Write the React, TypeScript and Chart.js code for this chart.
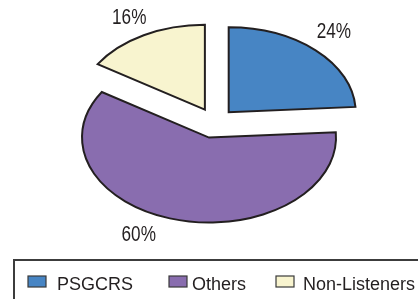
import React, { useEffect, useRef } from 'react';
import { Chart, registerables } from 'chart.js';

Chart.register(...registerables);

// ---- data ----
const CATEGORIES = ['PSGCRS', 'Others', 'Non-Listeners'];
const VALUES = [24, 60, 16];
const PERCENT_LABELS = ['24%', '60%', '16%'];

// ---- styles / layout ----
const COLORS = ['#4785C4', '#896DAF', '#F8F4CF'];
const OUTLINE = '#231F20';
const SQUASH = 0.669; // vertical flattening of the pie
const EXPLODE = [20, 24, 21]; // explosion distance per slice (circle space)
const RADIUS = 127;
const LABEL_DIST = 178;
const LABEL_NUDGE = [[-3, -3], [-32, -2], [0, 0]];
const LABEL_FONT = "22px 'Liberation Sans', Arial, sans-serif";
const LABEL_X_SCALE = 0.78; // condensed look of the percentage labels
const LEGEND_FONT = "18px 'Liberation Sans', Arial, sans-serif";
const LEGEND_BOX = { left: 14, top: 260 };
const LEGEND_SWATCH_X = [28, 169, 276];
const LEGEND_TEXT_X = [57, 192, 303];

const squashedPie = {
  id: 'squashedPie',
  beforeDatasetsDraw(chart: any) {
    const ctx: CanvasRenderingContext2D = chart.ctx;
    const meta = chart.getDatasetMeta(0);
    meta.data.forEach((arc: any, i: number) => {
      const { x, y, startAngle, endAngle, outerRadius } = arc.getProps(
        ['x', 'y', 'startAngle', 'endAngle', 'outerRadius'],
        true
      );
      const mid = (startAngle + endAngle) / 2;
      const d = EXPLODE[i] || 0;
      ctx.save();
      ctx.translate(x, y);
      ctx.scale(1, SQUASH);
      ctx.translate(-x, -y);
      ctx.translate(Math.cos(mid) * d, Math.sin(mid) * d);
      arc.draw(ctx);
      ctx.beginPath();
      ctx.moveTo(x, y);
      ctx.arc(x, y, outerRadius, startAngle, endAngle);
      ctx.closePath();
      ctx.restore();
      ctx.save();
      ctx.lineWidth = 2;
      ctx.lineJoin = 'miter';
      ctx.strokeStyle = OUTLINE;
      ctx.stroke();
      ctx.restore();
    });
    // percentage labels
    meta.data.forEach((arc: any, i: number) => {
      const { x, y, startAngle, endAngle } = arc.getProps(['x', 'y', 'startAngle', 'endAngle'], true);
      const mid = (startAngle + endAngle) / 2;
      const nx = LABEL_NUDGE[i] ? LABEL_NUDGE[i][0] : 0;
      const ny = LABEL_NUDGE[i] ? LABEL_NUDGE[i][1] : 0;
      const lx = x + Math.cos(mid) * LABEL_DIST + nx;
      const ly = y + Math.sin(mid) * LABEL_DIST * SQUASH + ny;
      ctx.save();
      ctx.translate(lx, ly);
      ctx.scale(LABEL_X_SCALE, 1);
      ctx.font = LABEL_FONT;
      ctx.fillStyle = OUTLINE;
      ctx.textAlign = 'center';
      ctx.textBaseline = 'middle';
      ctx.fillText(PERCENT_LABELS[i], 0, 0);
      ctx.restore();
    });
    return false;
  },
  afterDraw(chart: any) {
    const ctx: CanvasRenderingContext2D = chart.ctx;
    const labels: string[] = chart.data.labels;
    const colors: string[] = chart.data.datasets[0].backgroundColor;
    ctx.save();
    ctx.lineWidth = 2;
    ctx.strokeStyle = '#3C3C3C';
    ctx.strokeRect(LEGEND_BOX.left, LEGEND_BOX.top, chart.width + 20, 80);
    ctx.font = LEGEND_FONT;
    ctx.textBaseline = 'alphabetic';
    ctx.textAlign = 'left';
    labels.forEach((lab, i) => {
      ctx.fillStyle = colors[i];
      ctx.fillRect(LEGEND_SWATCH_X[i], 276, 18, 11);
      ctx.lineWidth = 1.2;
      ctx.strokeStyle = '#3A3A3A';
      ctx.strokeRect(LEGEND_SWATCH_X[i], 276, 18, 11);
      ctx.fillStyle = OUTLINE;
      ctx.fillText(lab, LEGEND_TEXT_X[i], 290);
    });
    ctx.restore();
  },
};

export default function App() {
  const ref = useRef<HTMLCanvasElement | null>(null);
  useEffect(() => {
    if (!ref.current) return;
    const chart = new Chart(ref.current, {
      type: 'pie',
      data: {
        labels: CATEGORIES,
        datasets: [
          {
            data: VALUES,
            backgroundColor: COLORS,
            borderWidth: 0,
          },
        ],
      },
      options: {
        responsive: false,
        animation: false,
        devicePixelRatio: 1,
        radius: RADIUS,
        layout: { padding: { left: 12, right: 0, top: 0, bottom: 55 } },
        plugins: {
          legend: { display: false },
          tooltip: { enabled: false },
        },
      } as any,
      plugins: [squashedPie as any],
    });
    return () => chart.destroy();
  }, []);
  return (
    <div style={{ position: 'fixed', left: 0, top: 0, width: 418, height: 299, background: '#fff' }}>
      <canvas ref={ref} width={418} height={299} style={{ width: 418, height: 299, display: 'block' }} />
    </div>
  );
}
